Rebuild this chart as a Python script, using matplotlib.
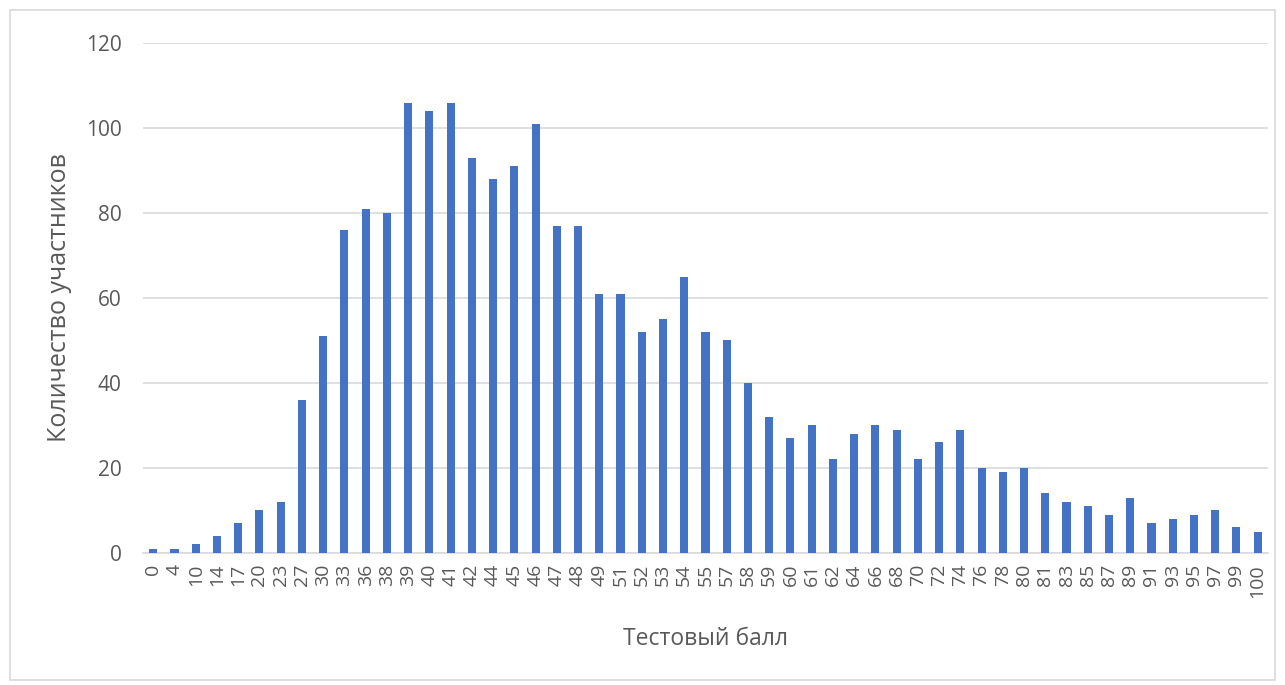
import matplotlib.pyplot as plt
from matplotlib.patches import Rectangle

scores = ["0", "4", "10", "14", "17", "20", "23", "27", "30", "33", "36", "38",
          "39", "40", "41", "42", "44", "45", "46", "47", "48", "49", "51", "52",
          "53", "54", "55", "57", "58", "59", "60", "61", "62", "64", "66", "68",
          "70", "72", "74", "76", "78", "80", "81", "83", "85", "87", "89", "91",
          "93", "95", "97", "99", "100"]
counts = [1, 1, 2, 4, 7, 10, 12, 36, 51, 76, 81, 80, 106, 104, 106, 93, 88, 91,
          101, 77, 77, 61, 61, 52, 55, 65, 52, 50, 40, 32, 27, 30, 22, 28, 30,
          29, 22, 26, 29, 20, 19, 20, 14, 12, 11, 9, 13, 7, 8, 9, 10, 6, 5]
y_ticks = [0, 20, 40, 60, 80, 100, 120]

plt.rcParams['font.family'] = ['Open Sans', 'DejaVu Sans']
gray = '#595959'

fig = plt.figure(figsize=(12.85, 6.85), dpi=100)
ax = fig.add_axes([0.111, 0.193, 0.876, 0.744])

x = list(range(len(scores)))
ax.bar(x, counts, width=0.38, color='#4472c4', zorder=3)

ax.set_xlim(-0.5, len(scores) - 0.5)
ax.set_ylim(0, 120)
ax.set_yticks(y_ticks)
ax.set_xticks(x)
ax.set_xticklabels(scores, rotation=90, fontsize=14, color=gray)
ax.tick_params(axis='y', labelsize=15, labelcolor=gray, length=0, pad=15)
ax.tick_params(axis='x', length=0, pad=8)
ax.grid(axis='y', color='#d9d9d9', linewidth=1.2, zorder=0)

for s in ['top', 'right', 'left']:
    ax.spines[s].set_visible(False)
ax.spines['bottom'].set_color('#d9d9d9')
ax.spines['bottom'].set_linewidth(1.2)

ax.set_xlabel("Тестовый балл", fontsize=16.5, color=gray)
ax.set_ylabel("Количество участников", fontsize=18, color=gray)
ax.xaxis.set_label_coords(0.5, -0.145)
ax.yaxis.set_label_coords(-0.063, 0.5)

fig.patches.append(Rectangle((0.008, 0.008), 0.984, 0.977, transform=fig.transFigure,
                             fill=False, edgecolor='#d9d9d9', linewidth=1.2))

fig.savefig("out.png")
